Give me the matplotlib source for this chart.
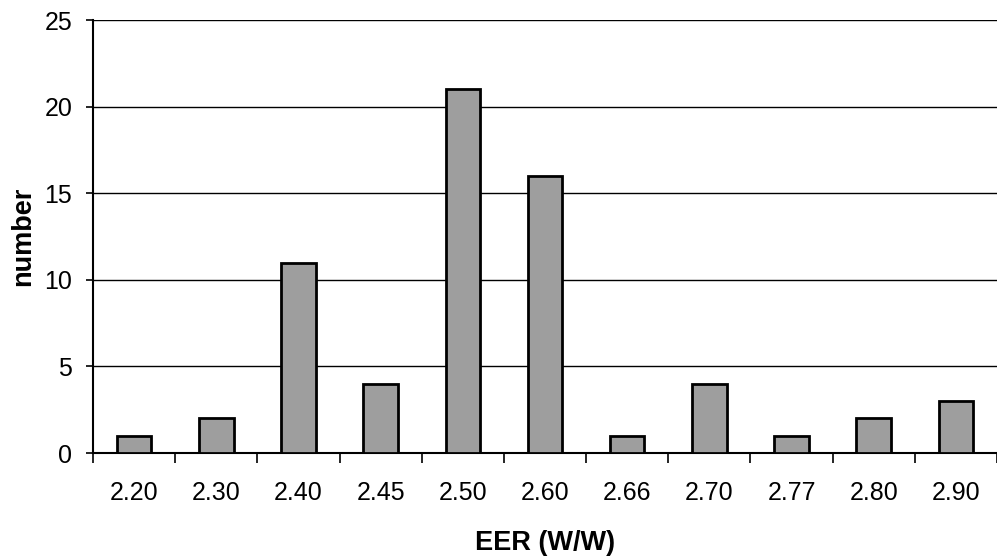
import matplotlib.pyplot as plt
import numpy as np

plt.rcParams['font.family'] = ['Liberation Sans', 'DejaVu Sans']

eer = ['2.20', '2.30', '2.40', '2.45', '2.50', '2.60', '2.66', '2.70', '2.77', '2.80', '2.90']
counts = [1, 2, 11, 4, 21, 16, 1, 4, 1, 2, 3]

fig = plt.figure(figsize=(9.97, 5.58), dpi=100)
ax = fig.add_axes([0.0933, 0.188, 0.9067, 0.776])

x = np.arange(len(eer))
ax.bar(x, counts, width=0.42, color='#9e9e9e', edgecolor='black', linewidth=2, zorder=3)

ax.set_xlim(-0.5, len(eer) - 0.5)
ax.set_ylim(0, 25)
ax.set_yticks(range(0, 26, 5))
ax.yaxis.grid(True, color='black', linewidth=1)
ax.set_axisbelow(True)

# category labels centred, tick marks on the category boundaries
ax.set_xticks(x)
ax.set_xticklabels(eer, fontsize=18)
ax.tick_params(axis='x', length=0, pad=20)
ax.set_xticks(np.arange(-0.5, len(eer)), minor=True)
ax.tick_params(axis='x', which='minor', length=7, width=1.2, color='black')
ax.tick_params(axis='y', labelsize=18, length=5, width=1.2, pad=10)

for s in ['top', 'right']:
    ax.spines[s].set_visible(False)
ax.spines['left'].set_linewidth(1.5)
ax.spines['bottom'].set_linewidth(1.5)

ax.set_xlabel('EER (W/W)', fontsize=19.5, fontweight='bold', labelpad=18)
ax.set_ylabel('number', fontsize=19.5, fontweight='bold', labelpad=6)

fig.savefig('out.png', dpi=100)
